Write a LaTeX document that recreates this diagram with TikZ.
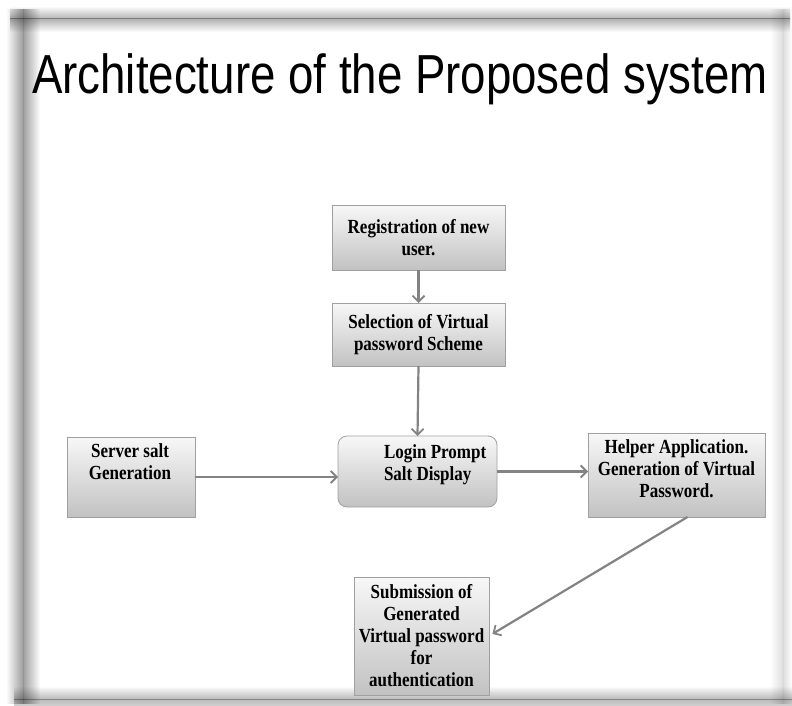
\documentclass[tikz,border=0pt]{standalone}
\usepackage{fontspec}
\usetikzlibrary{arrows.meta,calc}
\newfontfamily\titlefont{Liberation Sans}[FakeStretch=0.83]
\newfontfamily\boxfont{Liberation Serif}[FakeStretch=0.85]
\definecolor{linkgray}{HTML}{838383}
\definecolor{edgegray}{HTML}{A0A0A0}
\tikzset{
  every node/.style={inner sep=0pt, outer sep=0pt},
  stepbox/.style={draw=edgegray, line width=0.8pt, top color=gray!6, bottom color=gray!48,
    align=center, font=\boxfont\bfseries\fontsize{20}{22}\selectfont},
  boxtext/.style={font=\boxfont\bfseries\fontsize{20}{22}\selectfont},
  link/.style={draw=linkgray, line width=2.2pt, -{Straight Barb[length=6pt,width=12pt,line width=1.8pt]}}
}
\begin{document}
\begin{tikzpicture}[x=1pt,y=-1pt]
\useasboundingbox (0,0) rectangle (792,706);
\fill[white] (0,0) rectangle (792,706);
% soft shadow round the slide: darker on the left and top, lighter on the right
\begin{scope}[blend mode=multiply]
  \shade[left color=white, right color=black!38] (6,10) rectangle (23,703);
  \shade[left color=black!38, right color=white] (23,10) rectangle (40,703);
  \shade[top color=white, bottom color=black!30] (10,6) rectangle (790,19);
  \shade[top color=black!30, bottom color=white] (10,19) rectangle (790,32);
  \shade[left color=white, right color=black!13] (770,10) rectangle (783,703);
  \shade[left color=black!13, right color=white] (783,10) rectangle (792,703);
  \shade[top color=white, bottom color=black!27] (14,686) rectangle (792,699);
  \shade[top color=black!27, bottom color=black!18] (14,699) rectangle (792,706);
\end{scope}

% title
\node[font=\titlefont\fontsize{55}{60}\selectfont, anchor=base] (title) at (400,94) {Architecture of the Proposed system};

% process boxes
\node[stepbox, minimum width=173pt, minimum height=65pt] (reg) at (418.5,237.5) {Registration of new\\user.};
\node[stepbox, minimum width=173pt, minimum height=63pt] (sel) at (418.5,334.5) {Selection of Virtual\\password Scheme};
\node[stepbox, rounded corners=9pt, minimum width=159pt, minimum height=71pt] (login) at (417.5,471.5) {};
\node[boxtext, align=left, anchor=north west] (logintxt) at (384,445) {Login Prompt\\Salt Display};
\node[stepbox, minimum width=128pt, minimum height=80pt] (server) at (131,477) {};
\node[boxtext, align=center, anchor=north] (servertxt) at (130,444) {Server salt\\Generation};
\node[stepbox, minimum width=177pt, minimum height=84pt] (helper) at (676.5,475) {};
\node[boxtext, align=center, anchor=north] (helpertxt) at (676.5,440) {Helper Application.\\Generation of Virtual\\Password.};
\node[stepbox, minimum width=135pt, minimum height=118pt] (sub) at (421.5,636) {Submission of\\Generated\\Virtual password\\for\\authentication};

\coordinate (helperout) at ($(helper.south)+(11,0)$);

% connectors
\draw[link] (reg.south) -- (sel.north);
\draw[link] (sel.south) -- (login.north);
\draw[link] (server.east) -- (server.east -| login.west);
\draw[link] (login.east) -- (login.east -| helper.west);
\draw[link, shorten >=4pt] (helperout) -- (sub.east);
\end{tikzpicture}
\end{document}
